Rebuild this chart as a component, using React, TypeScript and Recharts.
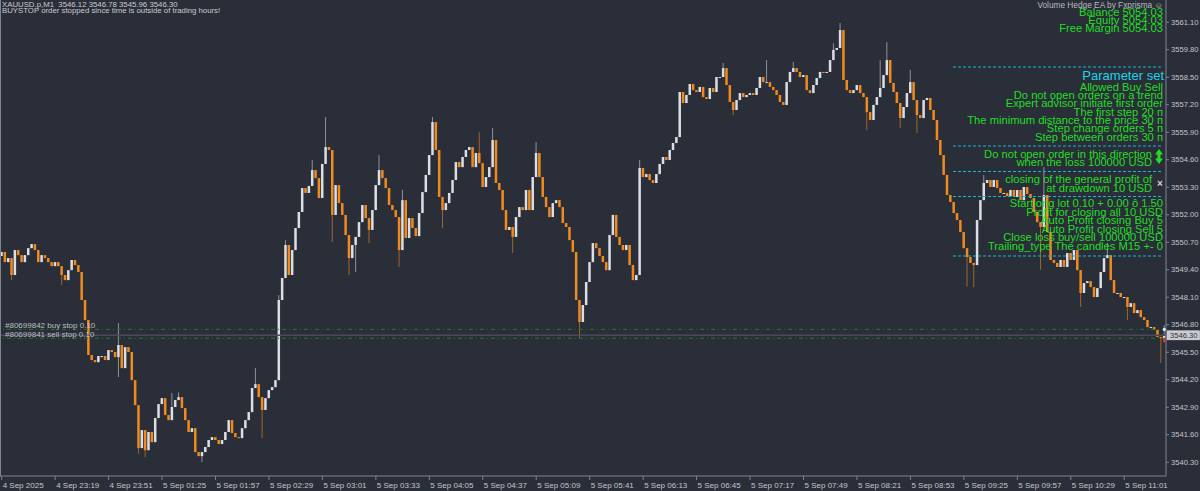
import React from 'react';
import { ComposedChart, Bar, XAxis, YAxis, ReferenceLine, ReferenceDot } from 'recharts';

const BG = '#2a2e39';
const AXIS = '#80848e';
const AXIS_TEXT = '#c4c6cb';
const BULL = '#dcdee3';
const BEAR = '#f08a1c';
const BULL_WICK = '#8d929c';
const BEAR_WICK = '#a0642a';
const GREEN = '#22de22';
const CYAN = '#1dd3ea';
const FONT = '"Liberation Sans", Arial, sans-serif';

const timeLabels = [
  '4 Sep 2025', '4 Sep 23:19', '4 Sep 23:51', '5 Sep 01:25', '5 Sep 01:57', '5 Sep 02:29',
  '5 Sep 03:01', '5 Sep 03:33', '5 Sep 04:05', '5 Sep 04:37', '5 Sep 05:09', '5 Sep 05:41',
  '5 Sep 06:13', '5 Sep 06:45', '5 Sep 07:17', '5 Sep 07:49', '5 Sep 08:21', '5 Sep 08:53',
  '5 Sep 09:25', '5 Sep 09:57', '5 Sep 10:29', '5 Sep 11:01',
];
const barsPerLabel = 16;

const priceTicks = [
  3540.3, 3541.6, 3542.9, 3544.2, 3545.5, 3546.8, 3548.1, 3549.4, 3550.7,
  3552.0, 3553.3, 3554.6, 3555.9, 3557.2, 3558.5, 3559.8, 3561.1,
];
const priceDomain: [number, number] = [3539.65, 3562.15];

// closes, two-minute candles
const firstOpen = 3550.05;
const closesLateSep4 = [
  3550.24, 3549.76, 3549.95, 3549.15, 3550.33, 3550.09, 3549.76, 3550.09, 3550.42, 3550.61,
  3550.33, 3549.76, 3550.09, 3549.95, 3549.76, 3549.57, 3549.76, 3549.57, 3549.15, 3548.91,
  3549.38, 3549.86, 3549.62, 3549.29, 3547.97, 3547.02, 3545.37, 3545.13, 3545.03, 3545.32,
  3545.32, 3545.13, 3545.6, 3545.51, 3545.27, 3545.84, 3544.75, 3545.74, 3545.51, 3544.18,
  3543.0, 3540.97, 3541.82, 3540.87, 3541.73, 3541.25, 3542.39, 3543.05, 3543.33, 3542.53,
  3542.29, 3542.91, 3543.24, 3543.38, 3542.86, 3542.29, 3541.73, 3541.91, 3540.78, 3540.59,
];
const closesEarlyAsia = [
  3540.78, 3541.02, 3541.35, 3541.49, 3541.35, 3541.16, 3541.35, 3541.73, 3542.29, 3541.68,
  3541.49, 3541.44, 3541.91, 3542.29, 3542.67, 3543.81, 3543.99, 3543.38, 3542.77, 3543.33,
  3543.71, 3543.85, 3544.18, 3547.97, 3549.01, 3550.57, 3549.15, 3550.33, 3551.37, 3552.13,
  3553.26, 3553.03, 3553.36, 3554.11, 3553.73, 3552.79, 3554.4, 3555.2, 3555.06, 3551.99,
  3553.4, 3552.55, 3551.99, 3551.04, 3549.95, 3550.57, 3550.95, 3551.65, 3552.46, 3551.84,
  3551.28, 3552.22, 3553.4, 3554.11, 3553.73, 3553.26, 3552.46,
];
const closesMidAsia = [
  3552.22, 3551.89, 3550.33, 3552.69, 3550.9, 3551.84, 3551.37, 3550.99, 3552.08, 3553.07,
  3553.88, 3554.82, 3556.38, 3555.06, 3552.84, 3552.22, 3552.55, 3553.03, 3553.64, 3554.49,
  3554.25, 3554.73, 3555.06, 3555.2, 3554.25, 3554.92, 3554.44, 3553.31, 3553.78, 3554.25,
  3555.53, 3553.5, 3553.17, 3552.22, 3551.28, 3551.42, 3550.95, 3551.89, 3552.36, 3552.22,
  3553.17, 3552.22, 3553.78, 3554.92, 3553.78, 3552.84, 3552.36, 3551.89, 3552.55, 3552.69,
  3552.36, 3551.61, 3551.42, 3550.8, 3550.24, 3547.97, 3546.93, 3547.73, 3548.82, 3549.76,
  3550.66, 3550.42, 3550.05, 3549.76, 3549.38, 3551.04, 3551.99, 3550.95, 3550.57, 3550.33,
  3550.57, 3549.62, 3548.91, 3549.15, 3554.21,
];
const closesMorning = [
  3553.78, 3553.92, 3553.64, 3553.5, 3553.92, 3554.4, 3554.73, 3554.59, 3555.06, 3555.39,
  3555.67, 3557.8, 3557.28, 3557.66, 3558.18, 3557.89, 3557.8, 3558.04, 3557.56, 3557.47,
  3557.99, 3557.8, 3558.51, 3558.51, 3558.93, 3558.13, 3557.33, 3556.95, 3557.42, 3557.75,
  3557.56, 3557.66, 3557.75, 3557.66, 3557.99, 3558.51, 3558.27, 3558.27, 3558.04, 3557.89,
  3557.66, 3557.33, 3557.19, 3558.27, 3558.75, 3558.93, 3558.75, 3558.51, 3558.6, 3557.89,
  3557.75, 3558.13, 3558.46, 3558.75, 3558.7, 3558.75, 3559.31, 3559.79, 3559.88, 3560.73,
  3558.37, 3557.89, 3557.75, 3557.89, 3558.13, 3557.75, 3557.56, 3556.85, 3556.48, 3557.19,
  3557.56, 3557.99, 3558.6, 3559.31, 3558.23, 3557.8, 3557.28, 3556.57, 3557.09, 3557.75,
  3558.27, 3557.42, 3556.71, 3556.57, 3557.42, 3557.52, 3556.95, 3556.48, 3555.53, 3554.82,
  3553.88, 3552.93,
];
const closesLate = [
  3552.6, 3552.08, 3551.75, 3551.18, 3550.42, 3550.0, 3549.72, 3549.62, 3551.75, 3552.69,
  3553.5, 3553.64, 3553.31, 3553.64, 3553.26, 3553.03, 3553.03, 3552.88, 3553.17, 3552.84,
  3553.17, 3552.69, 3553.31, 3552.98, 3552.79, 3552.13, 3551.65, 3551.42, 3552.93, 3551.18,
  3549.86, 3549.72, 3549.53, 3549.86, 3549.53, 3550.19, 3549.86, 3550.33, 3549.38, 3548.3,
  3548.77, 3548.86, 3548.58, 3548.11, 3548.53, 3549.29, 3549.95, 3550.09, 3548.91, 3548.3,
  3548.3, 3548.11, 3548.11, 3547.64, 3547.82, 3547.35, 3547.49, 3547.16, 3547.02, 3546.69,
  3546.69, 3546.55, 3546.22, 3546.17, 3546.3,
];

// long wicks [candle index, price]
const wickHighs: [number, number][] = [
  [35, 3546.88], [51, 3543.57], [53, 3543.6], [76, 3544.75], [83, 3548.2], [85, 3550.8],
  [93, 3554.59], [97, 3556.62], [113, 3554.82], [120, 3553.17], [129, 3556.62], [143, 3555.9],
  [147, 3556.1], [160, 3555.44], [191, 3554.59], [216, 3559.17], [229, 3559.31], [237, 3559.22],
  [249, 3560.1], [251, 3561.06], [263, 3559.3], [265, 3560.16], [272, 3558.84], [294, 3553.88],
  [312, 3554.25], [331, 3550.66], [348, 3546.78],
];
const wickLows: [number, number][] = [
  [3, 3548.91], [18, 3548.67], [35, 3544.33], [41, 3540.7], [43, 3540.54], [60, 3540.31],
  [78, 3541.44], [99, 3550.7], [104, 3549.15], [106, 3549.29], [110, 3550.66], [119, 3549.53],
  [132, 3551.37], [153, 3550.19], [173, 3546.17], [219, 3556.71], [259, 3556.0], [269, 3556.1],
  [274, 3555.86], [289, 3548.6], [291, 3548.58], [311, 3549.4], [323, 3547.64], [337, 3547.02],
  [347, 3544.99], [348, 3545.96],
];

const lastPrice = 3546.3;
const buyStop = 3546.58;
const sellStop = 3546.16;

const closes = [...closesLateSep4, ...closesEarlyAsia, ...closesMidAsia, ...closesMorning, ...closesLate];
const hiMap = new Map(wickHighs);
const loMap = new Map(wickLows);
const candles = closes.map((close, i) => {
  const open = i === 0 ? firstOpen : closes[i - 1];
  const high = Math.max(open, close, hiMap.get(i) ?? -Infinity);
  const low = Math.min(open, close, loMap.get(i) ?? Infinity);
  return { i, open, close, high, low, range: [low, high] };
});
const xTicks = timeLabels.map((_, k) => k * barsPerLabel);
const lastIndex = closes.length - 1;

const Candle = (props: any) => {
  const { x, y, width, height, payload } = props;
  if (!payload) return null;
  const { open, close, high, low } = payload;
  const cx = x + width / 2;
  const up = close >= open;
  const span = high - low;
  const k = span > 0 ? height / span : 0;
  const yO = y + (high - open) * k;
  const yC = y + (high - close) * k;
  const top = Math.min(yO, yC);
  const bh = Math.max(Math.abs(yO - yC), 1);
  return (
    <g>
      <line x1={cx} x2={cx} y1={y} y2={y + Math.max(height, 1)} stroke={up ? BULL_WICK : BEAR_WICK} strokeWidth={1} />
      <rect x={cx - 1.25} y={top} width={2.5} height={bh} fill={up ? BULL : BEAR} />
    </g>
  );
};

const TimeTick = (props: any) => {
  const { x, y, payload } = props;
  return (
    <text x={x + 1} y={y} dy="0.71em" fill={AXIS_TEXT} fontSize={8} fontFamily={FONT}>
      {timeLabels[payload.value / barsPerLabel]}
    </text>
  );
};

const PriceTick = (props: any) => {
  const { x, y, payload } = props;
  return (
    <text x={x} y={y} dy="0.35em" fill={AXIS_TEXT} fontSize={7.6} fontFamily={FONT}>
      {Number(payload.value).toFixed(2)}
    </text>
  );
};

const PriceBox = (props: any) => {
  const vb = props.viewBox;
  if (!vb) return null;
  const x = vb.x + vb.width + 1;
  return (
    <g>
      <rect x={x} y={vb.y - 4.5} width={32.5} height={9} fill="#c9cbd0" stroke="#e4e5e8" strokeWidth={0.6} />
      <text x={x + 3} y={vb.y} dy="0.35em" fill="#30333b" fontSize={7.6} fontFamily={FONT}>
        {lastPrice.toFixed(2)}
      </text>
    </g>
  );
};

const orderLabel = (text: string) => (props: any) => {
  const vb = props.viewBox;
  if (!vb) return null;
  return (
    <text x={vb.x + 5} y={vb.y - 1.5} fill="#bdbfc4" fontSize={8} fontFamily={FONT}>
      {text}
    </text>
  );
};

const accountLines = ['Balance 5054.03', 'Equity 5054.03', 'Free Margin 5054.03'];
const paramLines = [
  'Allowed Buy Sell',
  'Do not open orders on a trend',
  'Expert advisor initiate first order',
  'The first step 20 п',
  'The minimum distance to the price 30 п',
  'Step change orders 5 п',
  'Step between orders 30 п',
];
const lossLines = ['Do not open order in this direction', 'when the loss 100000 USD'];
const drawdownLines = ['closing of the general profit of', 'at drawdown 10 USD'];
const lotLines = [
  'Startiong lot 0.10 + 0.00 ô 1.50',
  'Profit for closing all 10 USD',
  'Auto Profit closing Buy 5',
  'Auto Profit closing Sell 5',
  'Close loss buy/sell 100000 USD',
  'Trailing_type The candles M15 +- 0',
];
const panelRules = [67, 146, 171.5, 196.5, 256];

const RText = ({ x, y, children, size = 11.2, fill = GREEN }: any) => (
  <text x={x} y={y} textAnchor="end" dominantBaseline="central" fontSize={size} fill={fill} fontFamily={FONT}>
    {children}
  </text>
);

const Overlay = () => (
  <svg width={1200} height={491} style={{ position: 'absolute', left: 0, top: 0, pointerEvents: 'none' }}>
    <line x1={0.5} x2={0.5} y1={0} y2={476} stroke={AXIS} />
    <text x={2} y={4.5} dominantBaseline="central" fontSize={7.8} fill="#c9cbd0" fontFamily={FONT} style={{ whiteSpace: 'pre' }}>
      {'XAUUSD.p,M1  3546.12 3546.78 3545.96 3546.30'}
    </text>
    <text x={2} y={10.5} dominantBaseline="central" fontSize={7.8} fill="#c9cbd0" fontFamily={FONT}>
      BUYSTOP order stopped since time is outside of trading hours!
    </text>
    <RText x={1163} y={4.5} size={8.3} fill="#b9bbc0">Volume Hedge EA by Fxprisma ☺</RText>
    {accountLines.map((t, k) => (
      <RText key={t} x={1163} y={11.8 + k * 8}>{t}</RText>
    ))}
    {panelRules.map((y) => (
      <line key={y} x1={953} x2={1163} y1={y} y2={y} stroke="#16b9cc" strokeDasharray="3 2" />
    ))}
    <RText x={1164} y={75} size={13} fill={CYAN}>Parameter set</RText>
    {paramLines.map((t, k) => (
      <RText key={t} x={1163} y={86.7 + k * 8.33}>{t}</RText>
    ))}
    {lossLines.map((t, k) => (
      <RText key={t} x={1152} y={154 + k * 8}>{t}</RText>
    ))}
    <g fill={GREEN}>
      <polygon points="1155,154.5 1159,149 1163,154.5" />
      <rect x={1157.5} y={154} width={3} height={5} />
      <polygon points="1155,158.5 1159,164 1163,158.5" />
    </g>
    {drawdownLines.map((t, k) => (
      <RText key={t} x={1152} y={179.3 + k * 8.3}>{t}</RText>
    ))}
    <text x={1160} y={183} textAnchor="middle" dominantBaseline="central" fontSize={10} fontWeight="bold" fill="#d4d6da" fontFamily={FONT}>×</text>
    {lotLines.map((t, k) => (
      <RText key={t} x={1163} y={203.3 + k * 8.5}>{t}</RText>
    ))}
  </svg>
);

export default function App() {
  return (
    <div style={{ position: 'fixed', left: 0, top: 0, width: 1200, height: 491, background: BG, overflow: 'hidden' }}>
      <ComposedChart width={1200} height={491} data={candles} margin={{ top: 0, right: 0, bottom: 0, left: 0 }} barCategoryGap={0}>
        <XAxis
          dataKey="i"
          type="category"
          height={15}
          ticks={xTicks}
          interval={0}
          tick={<TimeTick />}
          tickSize={4}
          tickLine={{ stroke: AXIS }}
          axisLine={{ stroke: AXIS }}
        />
        <YAxis
          orientation="right"
          width={34}
          domain={priceDomain}
          ticks={priceTicks}
          allowDataOverflow
          interval={0}
          tick={<PriceTick />}
          tickSize={3}
          tickMargin={2}
          tickLine={{ stroke: AXIS }}
          axisLine={{ stroke: AXIS }}
        />
        <ReferenceLine y={lastPrice} stroke="#484c57" strokeWidth={1.5} label={PriceBox} />
        <ReferenceLine y={buyStop} stroke="#1f7d2c" strokeDasharray="4 3 1 3" label={orderLabel('#80699842 buy stop 0.10')} />
        <ReferenceLine y={sellStop} stroke="#1f7d2c" strokeDasharray="4 3 1 3" label={orderLabel('#80699841 sell stop 0.10')} />
        <Bar dataKey="range" shape={<Candle />} isAnimationActive={false} />
        <ReferenceDot x={lastIndex} y={buyStop} r={1.6} fill="#dfe6ff" stroke="none" />
        <ReferenceDot x={lastIndex} y={sellStop - 0.08} r={1.6} fill="#e0303a" stroke="none" />
      </ComposedChart>
      <Overlay />
    </div>
  );
}
